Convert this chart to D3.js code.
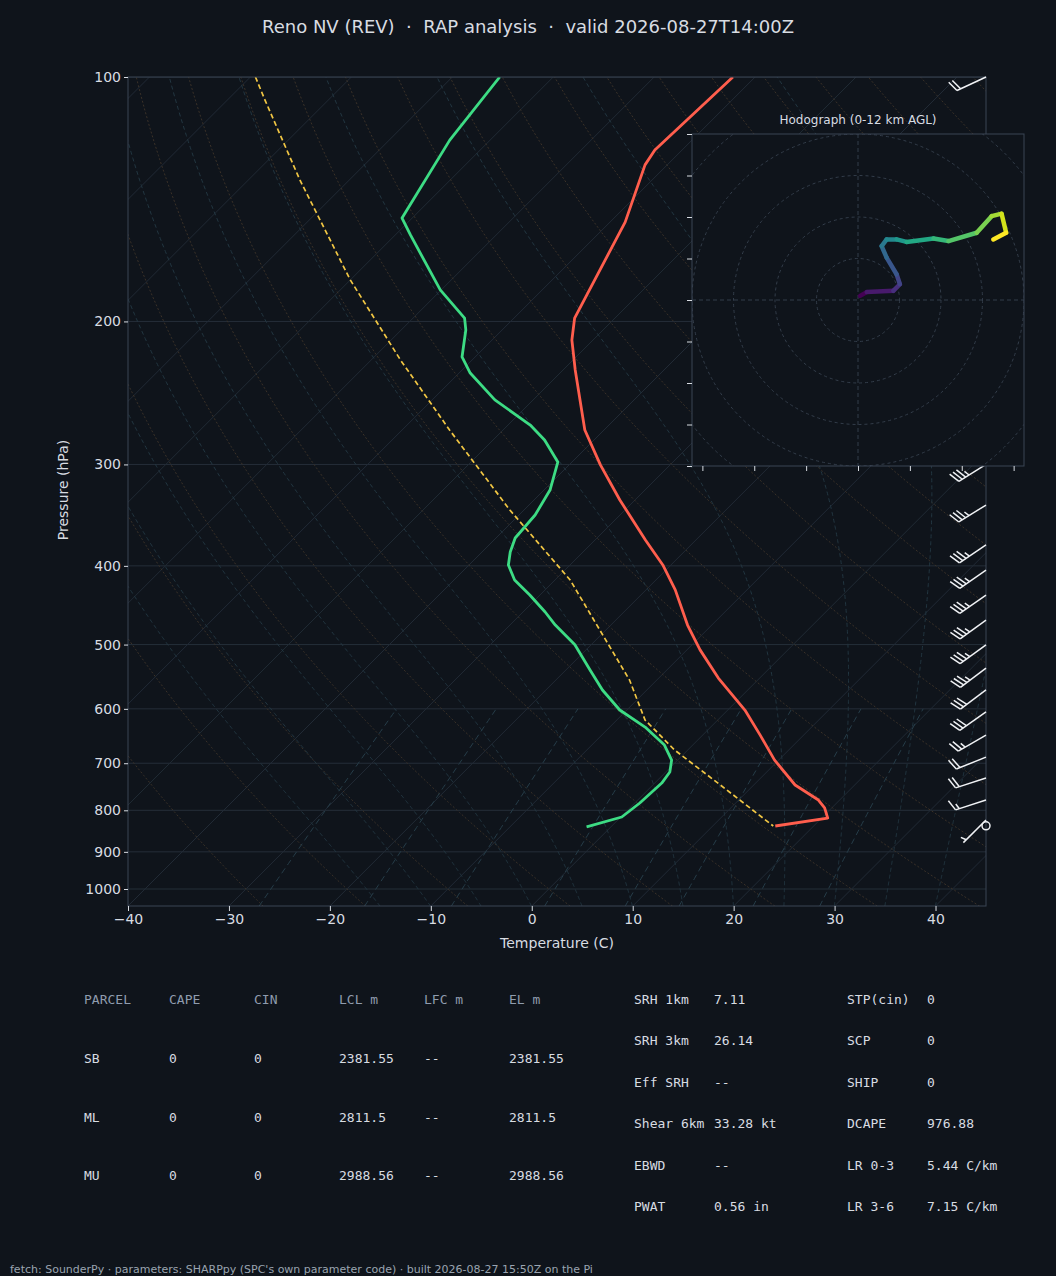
<!DOCTYPE html>
<html>
<head>
<meta charset="utf-8">
<script src="https://cdn.jsdelivr.net/npm/d3@7"></script>
<style>
  body { margin: 0; background: #0f141b; }
  svg { display: block; }
  text { white-space: pre; }
</style>
</head>
<body>
<svg id="chart" width="1056" height="1276"></svg>
<script>
// Sounding data (pressure hPa, temperature C)
var tempP = [100, 123, 128.3, 150.9, 198.1, 210.8, 229.5, 272.1, 300.4, 331.8, 371.7, 399, 428.2, 473.1, 507.6, 549.8, 602, 646.4, 693.8, 744.6, 777, 794.7, 817.7, 836.4];
var tempT = [-62.2, -62.7, -62.2, -58.5, -54.0, -52.1, -48.8, -41.9, -36.9, -31.5, -25.0, -20.8, -17.1, -12.4, -8.7, -4.1, 1.7, 5.7, 9.6, 14.1, 17.9, 19.3, 20.6, 16.2];
var dewP = [100, 119.6, 149.2, 156.5, 182.9, 198.1, 204.9, 221.2, 231.5, 249.8, 268.3, 279.9, 298, 322.6, 346.3, 369.6, 384.6, 399, 416.3, 434.5, 455.9, 473.1, 500.4, 537.5, 568.7, 602, 631.8, 664.9, 693.8, 717.6, 740.5, 783.6, 815.3, 838.7];
var dewT = [-85.3, -84.0, -81.0, -78.5, -70.1, -64.9, -63.6, -61.3, -58.9, -53.8, -47.8, -44.9, -41.4, -39.4, -38.4, -38.1, -37.2, -36.1, -34.0, -31.0, -27.8, -25.5, -21.6, -17.6, -14.4, -10.7, -6.5, -2.8, -0.6, 0.4, 0.7, 0.5, 0.1, -2.4];
var parcelP = [100, 106.7, 133.9, 177.8, 223.1, 272.1, 341.4, 416.3, 479.8, 552.9, 619.3, 674.3, 744.6, 836.4];
var parcelT = [-109.5, -106.3, -94.9, -80.0, -67.1, -55.3, -41.4, -28.5, -20.6, -12.7, -7.2, -1.3, 6.7, 16.0];

// Wind barbs
var windP = [100, 300, 336.6, 376.9, 404.8, 434.5, 466.5, 500.4, 534.4, 568.7, 605.3, 646.4, 687.9, 730, 777, 822.3, 836];
var windDir = [245, 238, 238, 236, 235, 235, 234, 234, 233, 233, 235, 240, 248, 252, 252, 225, 0];
var windSpd = [20, 35, 35, 35, 35, 35, 35, 35, 35, 30, 30, 25, 20, 20, 15, 5, 0];

// Hodograph (u, v in kt)
var hodoU = [0.5, 2.1, 8.5, 10.1, 9.3, 6.9, 5.7, 6.9, 9.3, 11.7, 18.2, 21.8, 28.6, 32.2, 34.6, 35.7, 32.6];
var hodoV = [1, 1.9, 2.2, 3.8, 6.2, 10.2, 13, 14.6, 14.6, 14, 14.8, 14.2, 16.2, 20.2, 20.8, 16.2, 14.6];

var pTicks = [100, 200, 300, 400, 500, 600, 700, 800, 900, 1000];
var tTicks = [-40, -30, -20, -10, 0, 10, 20, 30, 40];

var parcelCols = ["PARCEL", "CAPE", "CIN", "LCL m", "LFC m", "EL m"];
var parcelRows = [
  ["SB", "0", "0", "2381.55", "--", "2381.55"],
  ["ML", "0", "0", "2811.5", "--", "2811.5"],
  ["MU", "0", "0", "2988.56", "--", "2988.56"]
];
var paramsA = [["SRH 1km", "7.11"], ["SRH 3km", "26.14"], ["Eff SRH", "--"], ["Shear 6km", "33.28 kt"], ["EBWD", "--"], ["PWAT", "0.56 in"]];
var paramsB = [["STP(cin)", "0"], ["SCP", "0"], ["SHIP", "0"], ["DCAPE", "976.88"], ["LR 0-3", "5.44 C/km"], ["LR 3-6", "7.15 C/km"]];

var svg = d3.select("#chart");
var bg = "#0f141b", fg = "#d8dce2", spine = "#3a4554";
svg.append("rect").attr("width", 1056).attr("height", 1276).attr("fill", bg);

var L = 128, R = 986, T = 77, B = 906;
var x = d3.scaleLinear().domain([-40, 45]).range([L, R]);
var y = d3.scaleLog().domain([100, 1000]).range([T, 889]);
var pBottom = y.invert(B);

// skewed screen x: isotherms at 45 degrees
function sx(t, p) { return x(t) + (B - y(p)); }
var line = d3.line().x(function(d) { return sx(d[1], d[0]); }).y(function(d) { return y(d[0]); });

svg.append("clipPath").attr("id", "plot").append("rect")
  .attr("x", L).attr("y", T).attr("width", R - L).attr("height", B - T);
var g = svg.append("g").attr("clip-path", "url(#plot)");

// isobars
pTicks.forEach(function(p) {
  g.append("line").attr("x1", L).attr("x2", R).attr("y1", y(p)).attr("y2", y(p))
    .attr("stroke", "#252e39").attr("stroke-width", 1);
});
// isotherms
d3.range(-160, 60, 10).forEach(function(t) {
  g.append("path").attr("d", line([[pBottom, t], [95, t]]))
    .attr("stroke", "#212a35").attr("stroke-width", 1).attr("fill", "none");
});

var pLevels = d3.range(1050, 95, -5);
// dry adiabats
d3.range(-30, 200, 10).forEach(function(th) {
  var pts = pLevels.map(function(p) { return [p, (th + 273.15) * Math.pow(p / 1000, 0.2857) - 273.15]; });
  g.append("path").attr("d", line(pts)).attr("stroke", "#3a3128")
    .attr("stroke-dasharray", "2,2").attr("fill", "none");
});
// moist adiabats
function es(tc) { return 6.112 * Math.exp(17.67 * tc / (tc + 243.5)); }
d3.range(-15, 45, 5).forEach(function(t0) {
  var tt = t0 + 273.15, up = [];
  for (var pp = 1050; pp >= 100; pp -= 2) {
    up.push([pp, tt - 273.15]);
    var rs = 0.622 * es(tt - 273.15) / (pp - es(tt - 273.15));
    var dTdp = (287 * tt + 2.5e6 * rs) / (pp * (1004 + 2.5e6 * 2.5e6 * rs * 0.622 / (287 * tt * tt)));
    tt -= dTdp * 2;
  }
  g.append("path").attr("d", line(up)).attr("stroke", "#223641")
    .attr("stroke-dasharray", "4,3").attr("fill", "none");
});
// mixing ratio lines
[0.4, 1, 2, 4, 7, 10, 16, 24].forEach(function(w) {
  var ww = w / 1000;
  var pts = d3.range(1050, 595, -10).map(function(p) {
    var e = ww * p / (0.622 + ww), l = Math.log(e / 6.112);
    return [p, 243.5 * l / (17.67 - l)];
  });
  g.append("path").attr("d", line(pts)).attr("stroke", "#263d49")
    .attr("stroke-dasharray", "6,4").attr("fill", "none");
});

function zip(a, b) { return a.map(function(v, i) { return [v, b[i]]; }); }
g.append("path").attr("d", line(zip(parcelP, parcelT))).attr("stroke", "#f2c744")
  .attr("stroke-width", 1.7).attr("stroke-dasharray", "5,3").attr("fill", "none");
g.append("path").attr("d", line(zip(dewP, dewT))).attr("stroke", "#3ddc84")
  .attr("stroke-width", 2.8).attr("fill", "none").attr("stroke-linejoin", "round");
g.append("path").attr("d", line(zip(tempP, tempT))).attr("stroke", "#ff5e4d")
  .attr("stroke-width", 2.8).attr("fill", "none").attr("stroke-linejoin", "round");

// frame and axes
svg.append("rect").attr("x", L).attr("y", T).attr("width", R - L).attr("height", B - T)
  .attr("fill", "none").attr("stroke", spine);
var yAxis = svg.append("g").attr("transform", "translate(" + L + ",0)")
  .call(d3.axisLeft(y).tickValues(pTicks).tickFormat(d3.format("d")).tickSize(4));
var xAxis = svg.append("g").attr("transform", "translate(0," + B + ")")
  .call(d3.axisBottom(x).tickValues(tTicks).tickFormat(function(d) { return d < 0 ? "\u2212" + (-d) : d; }).tickSize(5));
[yAxis, xAxis].forEach(function(a) {
  a.select(".domain").remove();
  a.selectAll("line").attr("stroke", fg);
  a.selectAll("text").attr("fill", fg).attr("font-family", "DejaVu Sans").attr("font-size", 14);
});
svg.append("text").attr("transform", "translate(68,490) rotate(-90)").attr("text-anchor", "middle")
  .attr("fill", fg).attr("font-family", "DejaVu Sans").attr("font-size", 14).text("Pressure (hPa)");
svg.append("text").attr("x", 557).attr("y", 948).attr("text-anchor", "middle")
  .attr("fill", fg).attr("font-family", "DejaVu Sans").attr("font-size", 14).text("Temperature (C)");
svg.append("text").attr("x", 528).attr("y", 33).attr("text-anchor", "middle")
  .attr("fill", fg).attr("font-family", "DejaVu Sans").attr("font-size", 18)
  .text("Reno NV (REV)  \u00b7  RAP analysis  \u00b7  valid 2026-08-27T14:00Z");

// wind barbs
var wb = svg.append("g").attr("stroke", "#f0f2f5").attr("stroke-width", 1.5).attr("fill", "none");
windP.forEach(function(p, i) {
  var bx = R, by = y(p), spd = windSpd[i];
  if (spd < 2.5) {
    wb.append("circle").attr("cx", bx).attr("cy", by).attr("r", 4);
    return;
  }
  var a = windDir[i] * Math.PI / 180, sdx = Math.sin(a), sdy = -Math.cos(a);
  var len = 32, tx = bx + sdx * len, ty = by + sdy * len;
  wb.append("line").attr("x1", bx).attr("y1", by).attr("x2", tx).attr("y2", ty);
  var px = -sdy, py = sdx; // perpendicular
  if (py > 0) { px = -px; py = -py; }
  var full = Math.floor(spd / 10), half = (spd % 10) >= 5 ? 1 : 0, pos = 0;
  for (var k = 0; k < full; k++) {
    var ox = tx - sdx * pos, oy = ty - sdy * pos;
    wb.append("line").attr("x1", ox).attr("y1", oy)
      .attr("x2", ox + px * 11 + sdx * 4).attr("y2", oy + py * 11 + sdy * 4);
    pos += 4;
  }
  if (half) {
    if (full === 0) pos = 4;
    var hx = tx - sdx * pos, hy = ty - sdy * pos;
    wb.append("line").attr("x1", hx).attr("y1", hy)
      .attr("x2", hx + px * 5.5 + sdx * 2).attr("y2", hy + py * 5.5 + sdy * 2);
  }
});

// hodograph inset
var hx0 = 692, hy0 = 134, hs = 332;
var hu = d3.scaleLinear().domain([-40, 40]).range([hx0, hx0 + hs]);
var hv = d3.scaleLinear().domain([-40, 40]).range([hy0 + hs, hy0]);
var hg = svg.append("g");
hg.append("rect").attr("x", hx0).attr("y", hy0).attr("width", hs).attr("height", hs).attr("fill", bg);
hg.append("clipPath").attr("id", "hclip").append("rect").attr("x", hx0).attr("y", hy0).attr("width", hs).attr("height", hs);
var hin = hg.append("g").attr("clip-path", "url(#hclip)");
[10, 20, 30, 40, 50].forEach(function(r) {
  hin.append("circle").attr("cx", hu(0)).attr("cy", hv(0)).attr("r", hu(r) - hu(0))
    .attr("fill", "none").attr("stroke", "#333d4a").attr("stroke-dasharray", "3,3");
});
hin.append("line").attr("x1", hx0).attr("x2", hx0 + hs).attr("y1", hv(0)).attr("y2", hv(0))
  .attr("stroke", "#333d4a").attr("stroke-dasharray", "4,3");
hin.append("line").attr("y1", hy0).attr("y2", hy0 + hs).attr("x1", hu(0)).attr("x2", hu(0))
  .attr("stroke", "#333d4a").attr("stroke-dasharray", "4,3");
var hpts = zip(hodoU, hodoV);
var n = hpts.length;
for (var i = 0; i < n - 1; i++) {
  hin.append("line").attr("x1", hu(hpts[i][0])).attr("y1", hv(hpts[i][1]))
    .attr("x2", hu(hpts[i + 1][0])).attr("y2", hv(hpts[i + 1][1]))
    .attr("stroke", d3.interpolateViridis(i / (n - 2))).attr("stroke-width", 4.5)
    .attr("stroke-linecap", "round");
}
hg.append("rect").attr("x", hx0).attr("y", hy0).attr("width", hs).attr("height", hs)
  .attr("fill", "none").attr("stroke", spine);
var hyAxis = hg.append("g").attr("transform", "translate(" + hx0 + ",0)")
  .call(d3.axisLeft(hv).tickValues(d3.range(-40, 41, 10)).tickFormat("").tickSize(5));
var hxAxis = hg.append("g").attr("transform", "translate(0," + (hy0 + hs) + ")")
  .call(d3.axisBottom(hu).tickValues(d3.range(-37.5, 38, 12.5)).tickFormat("").tickSize(5));
[hyAxis, hxAxis].forEach(function(a) {
  a.select(".domain").remove();
  a.selectAll("line").attr("stroke", fg);
});
hg.append("text").attr("x", hx0 + hs / 2).attr("y", 124).attr("text-anchor", "middle")
  .attr("fill", fg).attr("font-family", "DejaVu Sans").attr("font-size", 12)
  .text("Hodograph (0-12 km AGL)");

// parameter tables
var mono = "DejaVu Sans Mono", head = "#8f9cae";
var colX = [84, 169, 254, 339, 424, 509];
parcelCols.forEach(function(c, j) {
  svg.append("text").attr("x", colX[j]).attr("y", 1004).attr("fill", head)
    .attr("font-family", mono).attr("font-size", 13).text(c);
});
parcelRows.forEach(function(row, r) {
  row.forEach(function(c, j) {
    svg.append("text").attr("x", colX[j]).attr("y", 1063 + r * 58.7).attr("fill", fg)
      .attr("font-family", mono).attr("font-size", 13).text(c);
  });
});
[[paramsA, 634, 714], [paramsB, 847, 927]].forEach(function(set) {
  set[0].forEach(function(pr, r) {
    var yy = 1004 + r * 41.4;
    svg.append("text").attr("x", set[1]).attr("y", yy).attr("fill", fg)
      .attr("font-family", mono).attr("font-size", 13).text(pr[0]);
    svg.append("text").attr("x", set[2]).attr("y", yy).attr("fill", fg)
      .attr("font-family", mono).attr("font-size", 13).text(pr[1]);
  });
});
svg.append("text").attr("x", 10).attr("y", 1273).attr("fill", "#9aa4b0")
  .attr("font-family", "DejaVu Sans").attr("font-size", 11)
  .text("fetch: SounderPy \u00b7 parameters: SHARPpy (SPC's own parameter code) \u00b7 built 2026-08-27 15:50Z on the Pi");
</script>
</body>
</html>
